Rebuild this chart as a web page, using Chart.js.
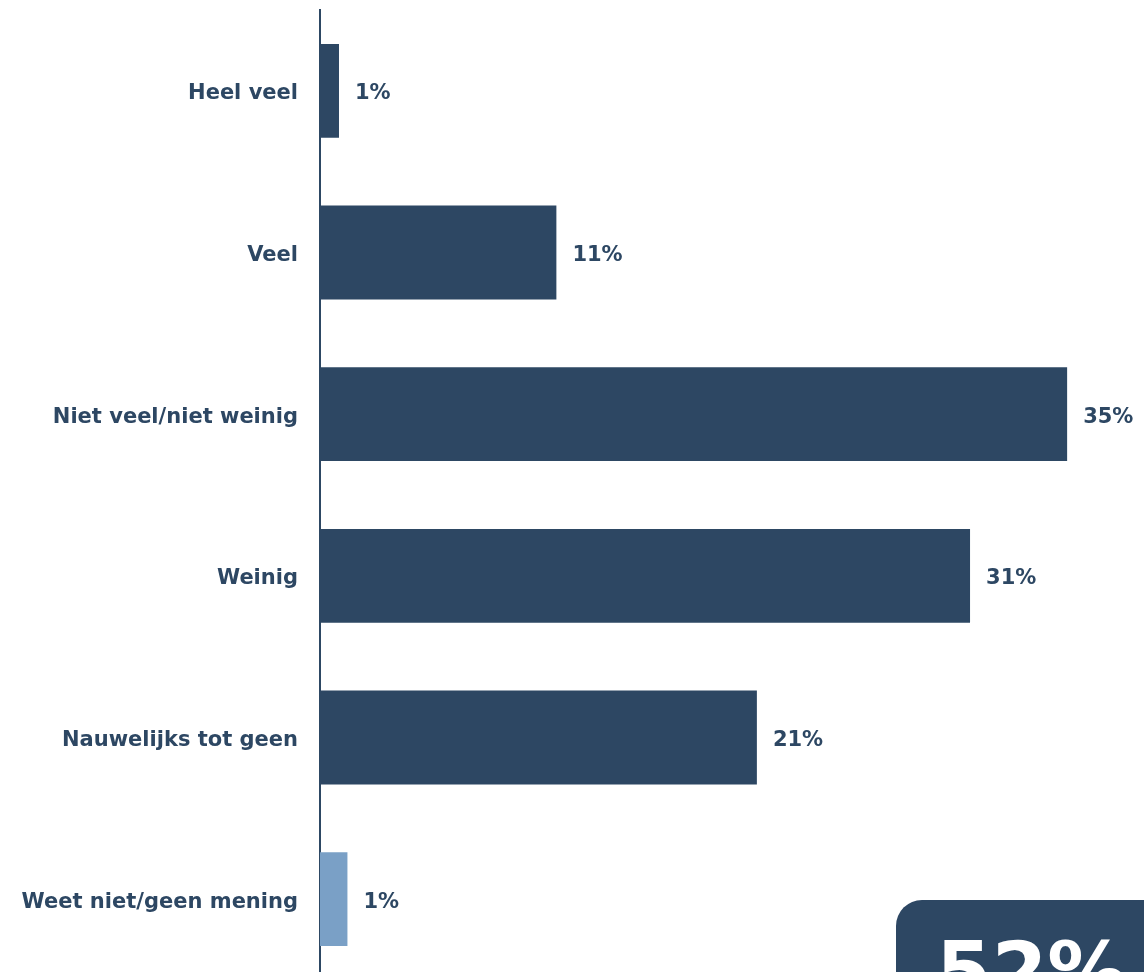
<!DOCTYPE html>
<html>
<head>
<meta charset="utf-8">
<script src="https://cdn.jsdelivr.net/npm/chart.js@4"></script>
<style>
  body { margin: 0; background: #fff; overflow: hidden; }
</style>
</head>
<body>
<canvas id="myChart" width="1144" height="990"></canvas>
<script>
const categories = ['Heel veel', 'Veel', 'Niet veel/niet weinig', 'Weinig', 'Nauwelijks tot geen', 'Weet niet/geen mening'];
const values = [0.9, 11.2, 35.4, 30.8, 20.7, 1.3];
const valueLabels = ['1%', '11%', '35%', '31%', '21%', '1%'];
const barColors = ['#2d4763', '#2d4763', '#2d4763', '#2d4763', '#2d4763', '#7aa0c6'];
const totalLabel = '52%'; // weinig + nauwelijks tot geen

const dark = '#2d4763';
const font = 'Verdana, DejaVu Sans, sans-serif';

// value labels next to each bar
const barLabels = {
  id: 'barLabels',
  afterDatasetsDraw(chart) {
    const c = chart.ctx;
    const meta = chart.getDatasetMeta(0);
    c.save();
    c.font = 'bold 21px ' + font;
    c.fillStyle = dark;
    c.textAlign = 'left';
    c.textBaseline = 'middle';
    meta.data.forEach((bar, i) => {
      c.fillText(valueLabels[i], bar.x + 16, bar.y + 3);
    });
    c.restore();
  }
};

// dark box with total in the bottom right corner
const totalBox = {
  id: 'totalBox',
  afterDraw(chart) {
    const c = chart.ctx;
    c.save();
    c.fillStyle = dark;
    c.beginPath();
    c.roundRect(896, 900, 300, 150, 26);
    c.fill();
    c.fillStyle = '#fff';
    c.font = 'bold 80px ' + font;
    c.textAlign = 'left';
    c.textBaseline = 'alphabetic';
    c.fillText(totalLabel, 936, 999);
    c.restore();
  }
};

const ctx = document.getElementById('myChart').getContext('2d');

const chart = new Chart(ctx, {
  type: 'bar',
  data: {
    labels: categories,
    datasets: [{
      data: values,
      backgroundColor: barColors,
      borderWidth: 0,
      barPercentage: 0.58,
      categoryPercentage: 1
    }]
  },
  options: {
    indexAxis: 'y',
    responsive: false,
    animation: false,
    layout: { padding: { top: 10, bottom: 10, left: 0, right: 22 } },
    plugins: {
      legend: { display: false },
      tooltip: { enabled: false }
    },
    scales: {
      x: {
        display: false,
        min: 0,
        max: 38
      },
      y: {
        afterFit(scale) {
          scale.width = 320;
          scale.paddingTop = 0;
          scale.paddingBottom = 0;
        },
        grid: { display: false, drawTicks: false },
        border: { display: true, color: dark, width: 2 },
        ticks: {
          color: dark,
          padding: 22,
          labelOffset: 3,
          font: { family: font, size: 21, weight: 'bold' }
        }
      }
    }
  },
  plugins: [barLabels, totalBox]
});
</script>
</body>
</html>
